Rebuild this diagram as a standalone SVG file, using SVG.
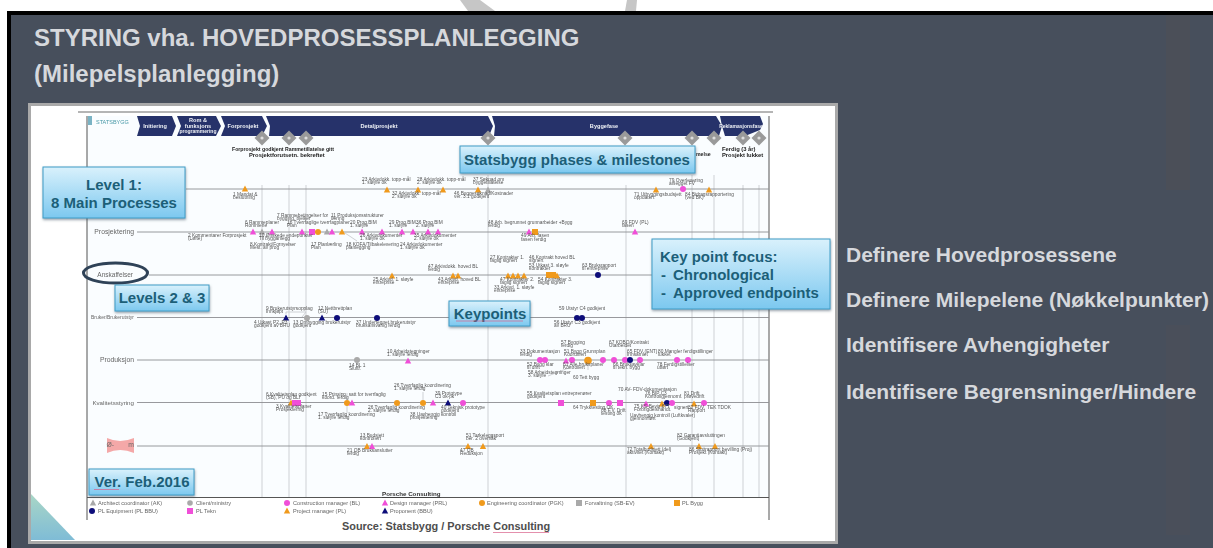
<svg xmlns="http://www.w3.org/2000/svg" width="1213" height="548" viewBox="0 0 1213 548">
<style>
text{font-family:"Liberation Sans",Arial,sans-serif}
.h{font-weight:bold;fill:#d6d8dc}
.t{font-size:24px}
.r{font-size:21px}
.c{font-weight:bold;fill:#1c5f78;font-size:15px}
.m{text-anchor:middle}
.s{font-size:4.8px;fill:#555}
.l{font-size:5.6px;fill:#666}
.rl{font-size:6.8px;fill:#666;text-anchor:end}
.b{font-size:5.2px;font-weight:bold;fill:#222}
.p{font-size:5.6px;font-weight:bold;fill:#eef0f6;text-anchor:middle}
.a{stroke:#8d8f92;stroke-width:.9;fill:none}
.v{stroke:#c9ccd0;stroke-width:.9;fill:none}
.k{stroke:#3f9cc6;stroke-width:1;fill:url(#cg);filter:url(#sh)}
.bar{fill:#26336a}
.pk{fill:#f04fd8}.or{fill:#f09a1e}.nv{fill:#10107a}.gr{fill:#a9a9a9}
</style>
<defs>
<linearGradient id="cg" x1="0" y1="0" x2="0" y2="1"><stop offset="0" stop-color="#d9f1fc"/><stop offset="1" stop-color="#7cc8ef"/></linearGradient>
<linearGradient id="tg" x1="0" y1="0" x2="0" y2="1"><stop offset="0" stop-color="#a9d6c6"/><stop offset="1" stop-color="#7fbcd6"/></linearGradient>
<filter id="sh" x="-10%" y="-20%" width="120%" height="150%"><feDropShadow dx="0.5" dy="1.500" stdDeviation="1" flood-color="#456" flood-opacity=".55"/></filter>
<filter id="bl" x="-2%" y="-2%" width="104%" height="104%"><feGaussianBlur stdDeviation="0.42"/></filter>
<path id="tri" d="M0-3.400L3.200 2.400H-3.200Z"/>
<circle id="cir" r="3"/>
<rect id="sq" x="-3" y="-3" width="6" height="6"/>
<g id="dia"><path d="M0-7.500L7.500 0L0 7.500L-7.500 0Z" fill="#9a9a9a"/><circle r="1.600" fill="#dedede"/></g>
</defs>

<rect width="1213" height="548" fill="#fff"/>
<g id="corner-marks" fill="#c6c6c6"><path d="M460 0H480L495 11H468Z"/><path d="M627 0H637L636 11H625Z"/></g>
<rect x="7" y="11" width="1206" height="537" fill="#474f5c"/>
<rect x="7" y="11" width="1206" height="4" fill="#000"/>
<rect x="7" y="11" width="4" height="537" fill="#000"/>
<rect x="1166" y="15" width="24" height="175" fill="#4b4f58"/>
<rect x="1166" y="325" width="24" height="210" fill="#4a4f5a"/>

<g id="title"><text class="h t" x="34" y="46">STYRING vha. HOVEDPROSESSPLANLEGGING</text><text class="h t" x="34" y="82">(Milepelsplanlegging)</text></g>
<g id="list">
<text class="h r" x="846" y="262">Definere Hovedprosessene</text>
<text class="h r" x="846" y="307">Definere Milepelene (Nøkkelpunkter)</text>
<text class="h r" x="846" y="352">Identifisere Avhengigheter</text>
<text class="h r" x="846" y="399">Identifisere Begrensninger/Hindere</text>
</g>

<g id="slide">
<rect x="29.500" y="104.500" width="807" height="438" fill="#fff" stroke="#a9a9a9" stroke-width="3"/>
<rect x="87" y="116" width="682" height="381" fill="#fafdff"/>
<path d="M31 494L75 540H31Z" fill="url(#tg)"/>
<g filter="url(#bl)">
<rect x="78" y="111" width="695" height="2" fill="#b5b5b5"/>
<path d="M87 116V520M769 116V520M87 497.500H769" fill="none" stroke="#555" stroke-width="1"/>
<rect x="88" y="116" width="4" height="9" fill="#7ab3c4"/>
<text x="96" y="124" font-size="5.500" fill="#4a9aa8">STATSBYGG</text>

<g id="phases">
<path class="bar" d="M137 116H172L176 126L172 136H137L140 126Z"/>
<path class="bar" d="M177 116H216L221 126L216 136H177L181 126Z"/>
<path class="bar" d="M221 116H262L267 126L262 136H221L225 126Z"/>
<path class="bar" d="M266 116H488L493 126L489 136H269L270 126Z"/>
<path class="bar" d="M492 116H716L722 126L719 136H494L495 126Z"/>
<path class="bar" d="M720 116H760L763 124L760 130L745 136H725L722 126Z"/>
<text class="p" x="155" y="128">Initiering</text>
<text class="p" x="198" y="122">Rom &amp;</text><text class="p" x="198" y="127.500">funksjons</text><text class="p" x="198" y="133" style="font-size:5px">programmering</text>
<text class="p" x="243" y="128">Forprosjekt</text>
<text class="p" x="379" y="128">Detaljprosjekt</text>
<text class="p" x="604" y="128">Byggefase</text>
<text class="p" x="741" y="128" style="font-size:5px">Reklamasjonsfase</text>
</g>
<g id="milestones"><use href="#dia" x="262" y="138"/><use href="#dia" x="289" y="138"/><use href="#dia" x="306" y="138"/><use href="#dia" x="488" y="138"/><use href="#dia" x="625" y="138"/><use href="#dia" x="692" y="138"/><use href="#dia" x="714" y="138"/><use href="#dia" x="743" y="138"/><use href="#dia" x="759" y="138"/></g>
<g id="milestone-captions">
<text class="b" x="232" y="151">Forprosjekt godkjent</text><text class="b" x="285" y="151">Rammetillatelse gitt</text><text class="b" x="249" y="157" style="font-size:5.800px">Prosjektforutsetn. bekreftet</text>
<text class="b" x="696" y="156">melse</text><text class="b" x="722" y="151" style="font-size:5.800px">Ferdig (3 år)</text><text class="b" x="722" y="156.500" style="font-size:5.800px">Prosjekt lukket</text>
</g>

<g id="connectors">
<path class="v" d="M262 185V497M289 185V497M306 185V497M488 175V497M626 185V497M692 175V497M714 175V497M743 185V497M759 185V497"/>
<path class="a" d="M186 189H769M137 232H769M149 275H769M137 317.500H769M137 360H769M137 402.500H769M137 446H769"/>
<path class="v" stroke="#999" d="M345 233L357 241M302 317L306 312H286V314M347 393V402M347 403V413M423 392V402M588 360V370M571 367L548 376"/>
</g>

<g id="rows">
<text class="rl" x="134" y="234">Prosjektering</text>
<text class="rl" x="133" y="277" style="font-size:6.500px">Anskaffelser</text>
<text class="rl" x="134" y="319" style="font-size:5px">Bruker/Brukerutstyr</text>
<text class="rl" x="134" y="362">Produksjon</text>
<text class="rl" x="134" y="404.500" style="font-size:6.200px">Kvalitetsstyring</text>
<path d="M107 438Q120 444 134 438V453Q120 447 107 453Z" fill="#f4a8a8"/>
<text class="rl" x="114" y="447">Ø-</text><text class="rl" x="134" y="447">m</text>
</g>

<g id="row1-markers"><use href="#tri" class="or" x="245" y="189"/><use href="#tri" class="or" x="387" y="190"/><use href="#tri" class="or" x="418" y="190"/><use href="#tri" class="or" x="443" y="190"/><use href="#tri" class="or" x="478" y="190"/><use href="#tri" class="gr" x="488" y="190"/><use href="#tri" class="or" x="656" y="190"/><use href="#cir" class="pk" x="683" y="189"/><use href="#tri" class="or" x="709" y="190"/></g>
<g id="row2-markers"><use href="#tri" class="pk" x="253" y="232"/><use href="#tri" class="gr" x="262" y="232"/><use href="#tri" class="pk" x="272" y="232"/><use href="#tri" class="pk" x="302" y="232"/><use href="#sq" class="pk" x="312" y="232"/><use href="#cir" class="or" x="318" y="232"/><use href="#tri" class="gr" x="327" y="232"/><use href="#tri" class="pk" x="332" y="232"/><use href="#tri" class="or" x="342" y="232"/><use href="#tri" class="pk" x="362" y="232"/><use href="#tri" class="pk" x="382" y="232"/><use href="#tri" class="pk" x="402" y="232"/><use href="#tri" class="pk" x="413" y="232"/><use href="#tri" class="pk" x="428" y="232"/><use href="#tri" class="pk" x="438" y="232"/><use href="#tri" class="pk" x="529" y="232"/><use href="#sq" class="or" x="535" y="232"/><use href="#tri" class="pk" x="635" y="232"/></g>
<g id="row3-markers"><use href="#tri" class="or" x="392" y="276"/><use href="#tri" class="or" x="453" y="276"/><use href="#tri" class="or" x="458" y="276"/><use href="#tri" class="or" x="508" y="276"/><use href="#tri" class="or" x="513" y="276"/><use href="#tri" class="or" x="518" y="276"/><use href="#tri" class="or" x="524" y="276"/><use href="#sq" class="or" x="549" y="275"/><use href="#sq" class="or" x="553" y="275"/><use href="#tri" class="or" x="557" y="276"/><use href="#cir" class="nv" x="598" y="275"/></g>
<g id="row4-markers"><use href="#tri" class="nv" x="286" y="318"/><use href="#cir" class="gr" x="307" y="318"/><use href="#tri" class="nv" x="322" y="318"/><use href="#cir" class="nv" x="337" y="318"/><use href="#cir" class="nv" x="377" y="318"/><use href="#cir" class="nv" x="577" y="318"/><use href="#cir" class="nv" x="582" y="318"/></g>
<g id="row5-markers"><use href="#cir" class="gr" x="357" y="360"/><use href="#tri" class="pk" x="408" y="361"/><use href="#cir" class="pk" x="540" y="360"/><use href="#cir" class="pk" x="545" y="360"/><use href="#tri" class="pk" x="566" y="361"/><use href="#cir" class="pk" x="572" y="360"/><circle class="or" cx="588" cy="360.500" r="3.800"/><use href="#cir" class="pk" x="603" y="360"/><use href="#cir" class="pk" x="614" y="360"/><use href="#cir" class="pk" x="625" y="360"/><use href="#cir" class="nv" x="630" y="360"/><use href="#cir" class="pk" x="640" y="360"/><use href="#cir" class="pk" x="677" y="360"/><use href="#cir" class="pk" x="688" y="360"/></g>
<g id="row6-markers"><use href="#tri" class="or" x="291" y="403"/><use href="#sq" class="pk" x="295" y="403"/><use href="#sq" class="pk" x="298" y="403"/><use href="#cir" class="or" x="347" y="403"/><use href="#tri" class="pk" x="352" y="403"/><use href="#cir" class="or" x="397" y="403"/><use href="#cir" class="or" x="423" y="403"/><use href="#tri" class="pk" x="433" y="403"/><use href="#tri" class="nv" x="448" y="403"/><use href="#cir" class="pk" x="463" y="403"/><use href="#sq" class="pk" x="561" y="403"/><use href="#sq" class="or" x="593" y="403"/><use href="#cir" class="pk" x="609" y="403"/><use href="#sq" class="pk" x="620" y="403"/><use href="#tri" class="pk" x="646" y="404"/><use href="#tri" class="or" x="662" y="404"/><use href="#cir" class="nv" x="667" y="403"/><use href="#cir" class="pk" x="672" y="403"/><use href="#tri" class="or" x="694" y="404"/><use href="#cir" class="pk" x="704" y="403"/></g>
<g id="row7-markers"><use href="#tri" class="or" x="367" y="446.500"/><use href="#tri" class="pk" x="372" y="446.500"/><use href="#tri" class="or" x="468" y="446.500"/><use href="#tri" class="or" x="483" y="446.500"/><use href="#tri" class="or" x="651" y="446.500"/><use href="#tri" class="or" x="699" y="446.500"/><use href="#tri" class="or" x="715" y="446.500"/></g>

<g id="labels">
<text class="s" x="233" y="196">1 Mandat &amp;</text><text class="s" x="233" y="199">beslutning</text>
<text class="s" x="362" y="181">23 Arkivdokk. topp-mål</text><text class="s" x="362" y="184">1. sløyfe ok</text>
<text class="s" x="417" y="181">28 Arkivdokk. topp-mål</text><text class="s" x="417" y="184">2. sløyfe ok</text>
<text class="s" x="473" y="181">37 Søknad om</text><text class="s" x="473" y="184">byggetillatelse</text>
<text class="s" x="392" y="195">32 Arkivdokk. topp-mål</text><text class="s" x="392" y="198">2. sløyfe ok</text>
<text class="s" x="454" y="195">46 Byggesøknad/Kostnader</text><text class="s" x="454" y="198">ver. 3.1 godkjent</text>
<text class="s" x="634" y="196">71 Utbyggingsbudsjett</text><text class="s" x="634" y="199">oppdatert</text>
<text class="s" x="669" y="182">79 Overlevering</text><text class="s" x="669" y="185">anlegget FV</text>
<text class="s" x="685" y="196">84 Bidragsrapportering</text><text class="s" x="685" y="199">(ved BK)</text>

<text class="s" x="277" y="217">7 Rammebetingelser for</text><text class="s" x="277" y="220">bygging. bjelker</text>
<text class="s" x="331" y="217">11 Produksjonsstrukturer</text><text class="s" x="331" y="220">læring</text>
<text class="s" x="245" y="224">6 Rammeplaner</text><text class="s" x="245" y="227">Rommene</text>
<text class="s" x="287" y="224">16 Tverrfaglige tverrfagplaner</text><text class="s" x="287" y="227">Plan</text>
<text class="s" x="350" y="224">20 Prog.BIM</text><text class="s" x="350" y="227">1. sløyfe</text>
<text class="s" x="389" y="224">29 Prog.BIM</text><text class="s" x="389" y="227">1. sløyfe</text>
<text class="s" x="416" y="224">36 Prog.BIM</text><text class="s" x="416" y="227">2. sløyfe</text>
<text class="s" x="488" y="224">48 Arb. begrunnet grunnarbeider +Bygg</text><text class="s" x="488" y="227">ferdig</text>
<text class="s" x="622" y="224">69 FDV (PL)</text><text class="s" x="622" y="227">fasen</text>
<text class="s" x="188" y="237">2 Kommentarer Forprosjekt</text><text class="s" x="188" y="240">(Løfte)</text>
<text class="s" x="259" y="237">10 Ønskede endepunkter</text><text class="s" x="259" y="240">Til bygganlegg</text>
<text class="s" x="360" y="237">26 Arkivdokumenter</text><text class="s" x="360" y="240">1. sløyfe ok</text>
<text class="s" x="414" y="237">35 Arkivdokumenter</text><text class="s" x="414" y="240">2. sløyfe ok</text>
<text class="s" x="521" y="237">49 Arb. fasen</text><text class="s" x="521" y="241">fasen ferdig</text>
<text class="s" x="250" y="246">8 Kontrakt/Fornyelser</text><text class="s" x="250" y="249">Mest. av prog</text>
<text class="s" x="311" y="246">17 Planlærling</text><text class="s" x="311" y="249">Plan</text>
<text class="s" x="346" y="246">18 KOFA/Tilbakelevering</text><text class="s" x="346" y="249">planlegging</text>
<text class="s" x="400" y="246">24 Arkivdokumenter</text><text class="s" x="400" y="249">1. sløyfe ok</text>

<text class="s" x="428" y="268">47 Arkivdokk. hoved BL</text><text class="s" x="428" y="271">ferdig</text>
<text class="s" x="490" y="259">27 Kontrakter 1.</text><text class="s" x="490" y="262">faglig signert</text>
<text class="s" x="529" y="259">46 Kontrakt hoved BL</text><text class="s" x="529" y="262">signert</text>
<text class="s" x="529" y="267">53 Utkast 3. sløyfe</text><text class="s" x="529" y="270">kontrakter</text>
<text class="s" x="582" y="267">63 Bruksrapport</text><text class="s" x="582" y="270">til entreprise</text>
<text class="s" x="373" y="281">25 Arkivd. 1. sløyfe</text><text class="s" x="373" y="284">entreprise</text>
<text class="s" x="438" y="281">43 Arkivd. hoved BL</text><text class="s" x="438" y="284">entreprise</text>
<text class="s" x="500" y="281">47 Kontrakter 2.</text><text class="s" x="500" y="284">faglig signert</text>
<text class="s" x="538" y="281">54 Kontrakter 3.</text><text class="s" x="538" y="284">faglig signert</text>
<text class="s" x="494" y="289">33 Arkivd. 1. sløyfe</text><text class="s" x="494" y="292">entreprise</text>

<text class="s" x="266" y="310">9 Brukerutstyrsopplag</text><text class="s" x="266" y="313">Innkjøpt</text>
<text class="s" x="318" y="310">12 Nettbrettplan</text><text class="s" x="318" y="313">(SU)</text>
<text class="s" x="254" y="324">4 Utkast P2, P3</text><text class="s" x="254" y="327">godkjent av BRU</text>
<text class="s" x="293" y="324">13 Ombygging brukerutstyr</text><text class="s" x="293" y="327">godkjent</text>
<text class="s" x="356" y="324">37 Undertegnet brukerutstyr</text><text class="s" x="356" y="327">bruksansvarlig ferdig</text>
<text class="s" x="559" y="310">59 Utstyr C4 godkjent</text><text class="s" x="554" y="324">56 Utstyr C3 godkjent</text><text class="s" x="554" y="327">av BRU</text>

<text class="s" x="387" y="353">10 Arbeidstegninger</text><text class="s" x="387" y="356">1. sløyfe ferdig</text>
<text class="s" x="349" y="367">14 BL 1</text><text class="s" x="349" y="370">Sluttr.</text>
<text class="s" x="520" y="353">33 Dokumentasjon</text><text class="s" x="520" y="356">ferdig</text>
<text class="s" x="561" y="344">57 Bygging</text><text class="s" x="561" y="347">ferdig</text>
<text class="s" x="564" y="353">51 Bygg Grunnplan</text><text class="s" x="564" y="356">Koordinert</text>
<text class="s" x="609" y="344">67 KOBO/Kontrakt</text><text class="s" x="609" y="347">Utarbeidet</text>
<text class="s" x="627" y="353">65 FDV (ENT)</text><text class="s" x="627" y="356">Innsamlet</text>
<text class="s" x="658" y="353">80 Mangler ferdigstillinger</text><text class="s" x="658" y="356">lukket</text>
<text class="s" x="527" y="366">52 Bygg klar</text><text class="s" x="527" y="369">til drift</text>
<text class="s" x="563" y="366">61 Alle bruksplaner</text><text class="s" x="563" y="369">Kontrollert</text>
<text class="s" x="613" y="366">66 Bruksavklar</text><text class="s" x="613" y="369">til tekn. bygg</text>
<text class="s" x="657" y="366">78 Ferdigstillelser</text><text class="s" x="657" y="369">utført</text>
<text class="s" x="528" y="374">58 Arbeidstegninger</text><text class="s" x="528" y="377">3. sløyfe</text>
<text class="s" x="573" y="379">60 Tett bygg</text>

<text class="s" x="266" y="396">6 Kvalitetsplan godkjent</text><text class="s" x="266" y="399">(SB), PU og BLI</text>
<text class="s" x="322" y="396">15 Prinsipp. satt for tverrfaglig</text><text class="s" x="322" y="399">koord. ferdig</text>
<text class="s" x="394" y="387">26 Tverrfaglig koordinering</text><text class="s" x="394" y="390">1. sløyfe ferdig</text>
<text class="s" x="435" y="395">39 Prototype</text><text class="s" x="435" y="398">C3 ok-pk</text>
<text class="s" x="527" y="395">55 Kvalitetsplan entreprenører</text><text class="s" x="527" y="398">godkjent</text>
<text class="s" x="618" y="391">70 AV- FDV-dokumentasjon</text>
<text class="s" x="645" y="395">76 BIP C3</text><text class="s" x="645" y="398">Kontrollgjennomf.</text>
<text class="s" x="684" y="395">81 Drift</text><text class="s" x="684" y="398">prøvedrift</text>
<text class="s" x="276" y="408">3 Kvalitetsplaner</text><text class="s" x="276" y="411">Prosjektering</text>
<text class="s" x="368" y="409">26 Tverrfaglig koordinering</text><text class="s" x="368" y="412">2. sløyfe ferdig</text>
<text class="s" x="441" y="409">40 Teknisk prototype</text><text class="s" x="441" y="412">godkjent</text>
<text class="s" x="318" y="416">17 Tverrfaglig koordinering</text><text class="s" x="318" y="419">1. sløyfe ferdig</text>
<text class="s" x="410" y="416">38 Uavhengig kontroll</text><text class="s" x="410" y="419">prosjektering</text>
<text class="s" x="573" y="409">64 Trykktesting OK</text>
<text class="s" x="601" y="412">68 F.V. Drift</text><text class="s" x="601" y="415">testing ok</text>
<text class="s" x="634" y="408">75 KS-Bevis 67T</text><text class="s" x="634" y="411">Forbrigdelshåndt.</text>
<text class="s" x="630" y="417">Uavhengig kontroll (Luftkvaler)</text><text class="s" x="630" y="420">gjennomført</text>
<text class="s" x="674" y="409">signert</text><text class="s" x="688" y="409">82 FDV</text><text class="s" x="688" y="412">Rapport</text><text class="s" x="707" y="409">TEK TDOK</text>

<text class="s" x="360" y="437">13 Budsjett</text><text class="s" x="360" y="440">kontrollert</text>
<text class="s" x="347" y="452">21 OB Bruksanslutter</text><text class="s" x="347" y="455">ferdig</text>
<text class="s" x="466" y="437">51 Tarkeleggsport</text><text class="s" x="466" y="440">ber. 2 overvåk</text>
<text class="s" x="460" y="452">47 OB</text><text class="s" x="460" y="455">Reduksjon</text>
<text class="s" x="677" y="437">82 Garantiavsluttingen</text><text class="s" x="677" y="440">(Godkjent)</text>
<text class="s" x="627" y="451">72 Totalbudsjett (del)</text><text class="s" x="627" y="454">aktivitet (Kontakt)</text>
<text class="s" x="689" y="451">86 Sluttrapport bevilling (Proj)</text><text class="s" x="689" y="454">Prosjekt (Kontakt)</text>
</g>

<g id="legend">
<text x="382" y="496" font-size="6.200" font-weight="bold" fill="#333" text-decoration="underline">Porsche Consulting</text>
<use href="#tri" class="gr" x="93" y="503"/><text class="l" x="98" y="505">Architect coordinator (AK)</text>
<circle class="gr" cx="190" cy="503" r="2.800"/><text class="l" x="196" y="505">Client/ministry</text>
<use href="#cir" class="pk" x="287" y="503"/><text class="l" x="293" y="505">Construction manager (BL)</text>
<use href="#tri" class="pk" x="385" y="503"/><text class="l" x="390" y="505">Design manager (PRL)</text>
<use href="#cir" class="or" x="482" y="503"/><text class="l" x="487" y="505">Engineering coordinator (PGK)</text>
<use href="#sq" class="gr" x="579" y="503"/><text class="l" x="585" y="505">Forvaltning (SB-EV)</text>
<use href="#sq" class="or" x="677" y="503"/><text class="l" x="682" y="505">PL Bygg</text>
<use href="#cir" class="nv" x="92" y="511"/><text class="l" x="98" y="513">PL Equipment (PL BBU)</text>
<use href="#sq" class="pk" x="190" y="511"/><text class="l" x="196" y="513">PL Tekn</text>
<use href="#tri" class="or" x="287" y="511"/><text class="l" x="293" y="513">Project manager (PL)</text>
<use href="#tri" class="nv" x="385" y="511"/><text class="l" x="390" y="513">Proponent (BBU)</text>
</g>
</g>

<ellipse id="ring" cx="115.500" cy="273" rx="32" ry="10" fill="none" stroke="#2f4257" stroke-width="3"/>

<g id="callout-level1"><rect class="k" x="43" y="167" width="142" height="51"/><text class="c m" x="114" y="190">Level 1:</text><text class="c m" x="114" y="208">8 Main Processes</text></g>
<g id="callout-phases"><rect class="k" x="460" y="146" width="235" height="27"/><text class="c m" x="577" y="165">Statsbygg phases &amp; milestones</text></g>
<g id="callout-focus"><rect class="k" x="652" y="239" width="178" height="70"/><text class="c" x="660" y="262">Key point focus:</text><text class="c" x="661" y="280">-</text><text class="c" x="673" y="280">Chronological</text><text class="c" x="661" y="298">-</text><text class="c" x="673" y="298">Approved endpoints</text></g>
<g id="callout-keypoints"><rect class="k" x="449" y="301" width="81" height="25"/><text class="c m" x="490" y="319">Keypoints</text></g>
<g id="callout-levels"><rect class="k" x="115" y="285" width="94" height="26"/><text class="c m" x="162" y="303">Levels 2 &amp; 3</text></g>
<g id="callout-version"><rect class="k" x="89" y="469" width="105" height="26"/><text class="c m" x="142" y="487">Ver. Feb.2016</text></g>

<text id="source" x="342" y="530" font-size="10.900" font-weight="bold" fill="#4d4d4d">Source: Statsbygg / Porsche Consulting</text>
<g id="spell-marks" fill="none" stroke="#d9608a" stroke-width=".7"><path d="M493 532.500H549M456 321H523M94 489.500H119"/></g>
</g>
</svg>
